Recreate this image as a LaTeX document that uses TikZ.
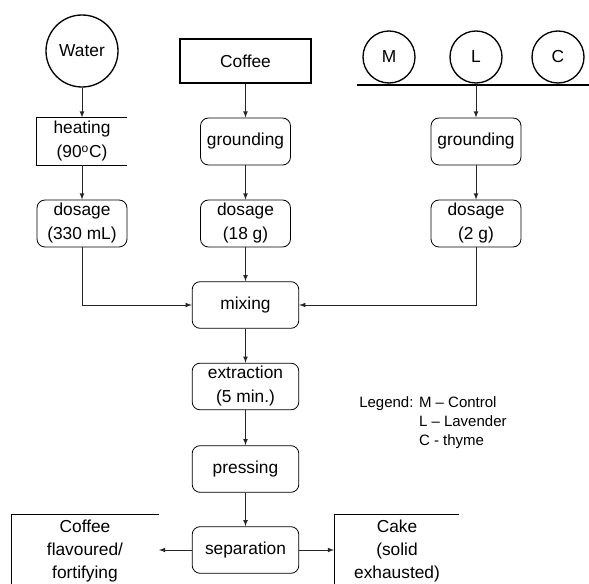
\documentclass[tikz,border=0pt]{standalone}
\usepackage{fontspec}
\setmainfont{Liberation Sans}
\usetikzlibrary{positioning}

\tikzset{
	stepbox/.style={draw, rounded corners=6pt, line width=0.6pt, align=center,
		minimum width=67.5pt, minimum height=35.25pt, inner sep=1pt,
		font=\fontsize{13}{18}\selectfont},
	bigbox/.style={stepbox, minimum width=80pt, minimum height=35pt},
	openbox/.style={stepbox, draw=none, rounded corners=0pt},
	source/.style={circle, draw, line width=1pt, inner sep=0pt,
		font=\fontsize{13}{18}\selectfont},
	flow/.style={-latex, line width=0.6pt, draw=black!85},
	outtext/.style={align=center, font=\fontsize{13}{17}\selectfont}
}

\begin{document}
\begin{tikzpicture}[x=0.75pt, y=-0.75pt]
	\useasboundingbox (0,0) rectangle (589,584);

	%sources
	\node [source, minimum size=54pt] (water) at (82,51) {Water};
	\node [draw, line width=1.2pt, minimum width=98pt, minimum height=33pt,
		font=\fontsize{13}{18}\selectfont] (coffee) at (245.5,61) {Coffee};
	\foreach \n/\x in {M/389, L/476, C/558}
	{
		\node [source, minimum size=39pt] (\n) at (\x,57) {\n};
	}
	\draw [line width=1.2pt] (357,85) -- (589,85);
	\coordinate (bar) at (476,85);

	%first steps
	\node [openbox] (heat) at (82,141.5) {heating\\(90\textsuperscript{o}C)};
	\draw [line width=0.6pt] (heat.north east) -- (heat.north west)
		-- (heat.south west) -- (heat.south east);
	\node [stepbox] (grind1) at (245.5,141.5) {grounding};
	\node [stepbox] (grind2) at (476,141.5) {grounding};

	\node [stepbox] (dose1) at (82,223.5) {dosage\\(330 mL)};
	\node [stepbox] (dose2) at (245.5,223.5) {dosage\\(18 g)};
	\node [stepbox] (dose3) at (476,223.5) {dosage\\(2 g)};

	%main line
	\node [bigbox] (mix) at (245.5,305) {mixing};
	\node [bigbox] (extr) at (245.5,386.5) {extraction\\(5 min.)};
	\node [bigbox] (press) at (245.5,469) {pressing};
	\node [bigbox] (sep) at (245.5,550) {separation};

	%outputs
	\draw [line width=0.6pt] (11,590) -- (11,514) -- (159,514);
	\draw [line width=0.6pt] (334,590) -- (334,514) -- (459,514);
	\node [outtext] (liquid) at (85,551) {Coffee\\flavoured/\\fortifying};
	\node [outtext] (cake) at (397,551) {Cake\\(solid\\exhausted)};
	\coordinate (outL) at (159,550);
	\coordinate (outR) at (334,550);

	%arrows
	\draw [flow] (water) -- (heat);
	\draw [flow] (coffee) -- (grind1);
	\draw [flow] (bar) -- (grind2);
	\draw [flow] (heat) -- (dose1);
	\draw [flow] (grind1) -- (dose2);
	\draw [flow] (grind2) -- (dose3);
	\draw [flow] (dose1) |- (mix);
	\draw [flow] (dose2) -- (mix);
	\draw [flow] (dose3) |- (mix);
	\draw [flow] (mix) -- (extr);
	\draw [flow] (extr) -- (press);
	\draw [flow] (press) -- (sep);
	\draw [flow] (sep) -- (outL);
	\draw [flow] (sep) -- (outR);

	%legend
	\node [anchor=north west, inner sep=0pt, font=\fontsize{11.25}{14.25}\selectfont]
		(legend) at (359,394)
		{\begin{tabular}{@{}l@{ }l@{}}
			Legend: & M – Control\\
			& L – Lavender\\
			& C - thyme
		\end{tabular}};

\end{tikzpicture}
\end{document}
